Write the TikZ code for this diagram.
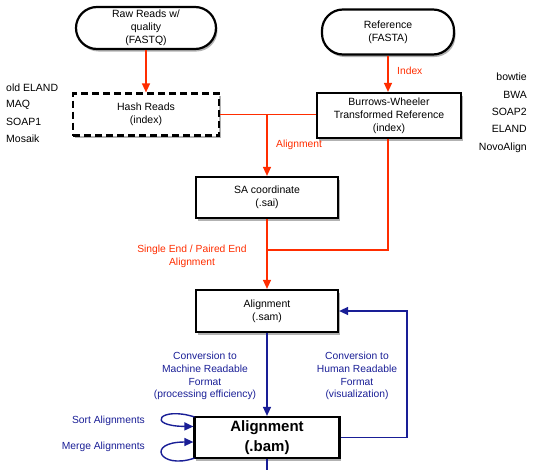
\documentclass[tikz,border=0pt]{standalone}
\usepackage{fontspec}
\setmainfont{Liberation Sans}
\usetikzlibrary{arrows.meta,shadows}
\definecolor{myred}{RGB}{255,45,0}
\definecolor{myblue}{RGB}{25,30,150}
\newcommand{\nfont}{\fontsize{10.5}{13}\selectfont}
\newcommand{\lfont}{\fontsize{10.3}{12.7}\selectfont}
\begin{document}
\begin{tikzpicture}[x=1pt,y=-1pt,
  box/.style={draw=black, line width=2.2pt, fill=white, align=center, inner sep=0pt, font=\nfont,
    drop shadow={shadow xshift=1.5pt, shadow yshift=-2.5pt, opacity=0.3, fill=black}},
  pill/.style={box, rounded corners=21pt},
  dashbox/.style={box, dash pattern=on 7pt off 4pt},
  rline/.style={draw=myred, line width=1.4pt},
  rarr/.style={rline, -{Triangle[length=9pt,width=8pt]}},
  bline/.style={draw=myblue, line width=1.4pt},
  barr/.style={bline, -{Triangle[length=9pt,width=8pt]}},
  redlbl/.style={text=myred, font=\lfont, inner sep=0pt, align=center},
  bluelbl/.style={text=myblue, font=\lfont, inner sep=0pt, align=center},
  toollbl/.style={text=black, font=\nfont, inner sep=0pt}
]
\useasboundingbox (0,0) rectangle (549,469);

% nodes
\node[pill, minimum width=140pt, minimum height=42pt] (raw) at (146,28) {Raw Reads w/\\quality\\(FASTQ)};
\node[pill, minimum width=132pt, minimum height=45pt] (ref) at (388,32) {Reference\\(FASTA)};
\node[dashbox, minimum width=146pt, minimum height=42pt] (hash) at (146,114.5) {Hash Reads\\(index)};
\node[box, minimum width=144pt, minimum height=45pt] (bwt) at (389,115.5) {Burrows-Wheeler\\Transformed Reference\\(index)};
\node[box, minimum width=142pt, minimum height=41pt] (sa) at (267,197.5) {SA coordinate\\(.sai)};
\node[box, minimum width=142pt, minimum height=42pt] (sam) at (267,311) {Alignment\\(.sam)};
\node[box, minimum width=145pt, minimum height=41pt, font=\fontsize{15}{20}\selectfont\bfseries] (bam) at (267,437.5) {Alignment\\(.bam)};

% red connectors
\draw[rarr] (raw.south) -- (hash.north);
\draw[rarr] (ref.south) -- (ref.south |- bwt.north);
\draw[rline] (hash.east) -- (hash.east -| bwt.west);
\draw[rarr] (hash.east -| sa.north) -- (sa.north);
\coordinate (j) at (267,250);
\draw[rline] (ref.south |- bwt.south) -- (ref.south |- j) -- (j);
\draw[rarr] (sa.south) -- (sam.north);

% blue connectors
\draw[barr] (sam.south) -- (bam.north);
\coordinate (c1) at (407,374);
\draw[barr] (bam.east) -- (bam.east -| c1) -- (c1 |- sam.east) -- (sam.east);
\coordinate (bot) at (267,480);
\draw[bline] (bam.south) -- (bot);
\draw[barr] ([xshift=1pt,yshift=-1pt]bam.north west) .. controls (160,406) and (145,426) .. ([yshift=11pt]bam.west);
\draw[barr] ([xshift=1pt,yshift=1pt]bam.south west) .. controls (160,470) and (145,442) .. ([yshift=-4.5pt]bam.west);

% labels
\node[redlbl, anchor=west] (lidx) at (397,71) {Index};
\node[redlbl, anchor=west] (lal) at (276,145) {Alignment};
\node[redlbl] (lse) at (192,256.5) {Single End / Paired End\\Alignment};
\node[bluelbl] (lmach) at (205,376) {Conversion to\\Machine Readable\\Format\\(processing efficiency)};
\node[bluelbl] (lhum) at (357,376) {Conversion to\\Human Readable\\Format\\(visualization)};
\node[bluelbl, anchor=east] (lsort) at (145,421) {Sort Alignments};
\node[bluelbl, anchor=east] (lmerge) at (145,447) {Merge Alignments};

% tool lists
\node[toollbl, anchor=west] (t1) at (6,87.5) {old ELAND};
\node[toollbl, anchor=west] (t2) at (6,105) {MAQ};
\node[toollbl, anchor=west] (t3) at (6,122) {SOAP1};
\node[toollbl, anchor=west] (t4) at (6,139) {Mosaik};
\node[toollbl, anchor=east] (u1) at (527,77) {bowtie};
\node[toollbl, anchor=east] (u2) at (527,95) {BWA};
\node[toollbl, anchor=east] (u3) at (527,112) {SOAP2};
\node[toollbl, anchor=east] (u4) at (527,129) {ELAND};
\node[toollbl, anchor=east] (u5) at (527,148) {NovoAlign};
\end{tikzpicture}
\end{document}
